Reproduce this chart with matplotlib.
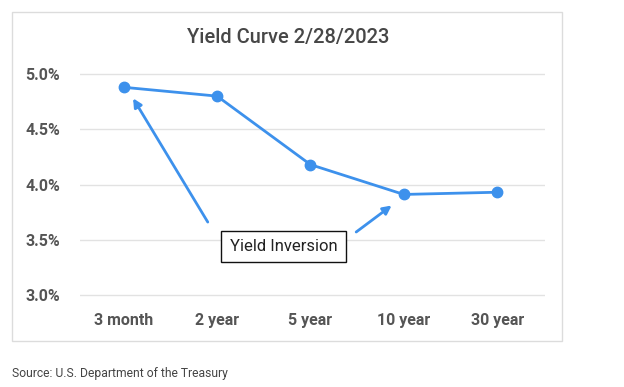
import matplotlib.pyplot as plt
from matplotlib.patches import Rectangle

# data
maturities = ['3 month', '2 year', '5 year', '10 year', '30 year']
yields = [4.88, 4.80, 4.18, 3.91, 3.93]
y_ticks = [3.0, 3.5, 4.0, 4.5, 5.0]
y_tick_labels = ['3.0%', '3.5%', '4.0%', '4.5%', '5.0%']

blue = '#3d91ec'
label_color = '#555555'

plt.rcParams['font.family'] = ['Roboto', 'DejaVu Sans']

fig = plt.figure(figsize=(6.24, 3.87), dpi=100)
ax = fig.add_axes([0.128, 0.2235, 0.745, 0.5995])

x = list(range(len(maturities)))
ax.plot(x, yields, color=blue, linewidth=2.0, marker='o', markersize=7.5, zorder=3)

ax.set_xlim(-0.47, 4.51)
ax.set_ylim(2.95, 5.05)
ax.set_yticks(y_ticks)
ax.set_yticklabels(y_tick_labels)
ax.set_xticks(x)
ax.set_xticklabels(maturities)
ax.grid(axis='y', color='#e2e2e2', linewidth=1)
ax.set_axisbelow(True)
for s in ax.spines.values():
    s.set_visible(False)
ax.tick_params(length=0, labelsize=11.5, labelcolor=label_color)
ax.tick_params(axis='y', pad=14)
ax.tick_params(axis='x', pad=9)
for lab in ax.get_xticklabels() + ax.get_yticklabels():
    lab.set_fontweight('bold')

# annotation
ax.text(1.71, 3.44, 'Yield Inversion', ha='center', va='center', fontsize=12,
        color='#222222',
        bbox=dict(boxstyle='square,pad=0.5', facecolor='white', edgecolor='#111111', linewidth=1))
arrow = dict(arrowstyle='-|>,head_length=0.5,head_width=0.25', color=blue, lw=2.0,
             shrinkA=0, shrinkB=0)
ax.annotate('', xy=(0.10, 4.78), xytext=(0.90, 3.66), arrowprops=arrow)
ax.annotate('', xy=(2.87, 3.81), xytext=(2.49, 3.57), arrowprops=arrow)

fig.text(288 / 624, 1 - 38 / 387, 'Yield Curve 2/28/2023', ha='center', va='center',
         fontsize=14.5, color='#474747', fontweight='medium')

# outer frame
fig.patches.append(Rectangle((12 / 624, 1 - 341 / 387), 550 / 624, 329 / 387,
                             transform=fig.transFigure, fill=False,
                             edgecolor='#dcdcdc', linewidth=1))

fig.text(12 / 624, 1 - 373 / 387, 'Source: U.S. Department of the Treasury',
         ha='left', va='center', fontsize=8.7, color='#444444')

fig.savefig('out.png', dpi=100)
